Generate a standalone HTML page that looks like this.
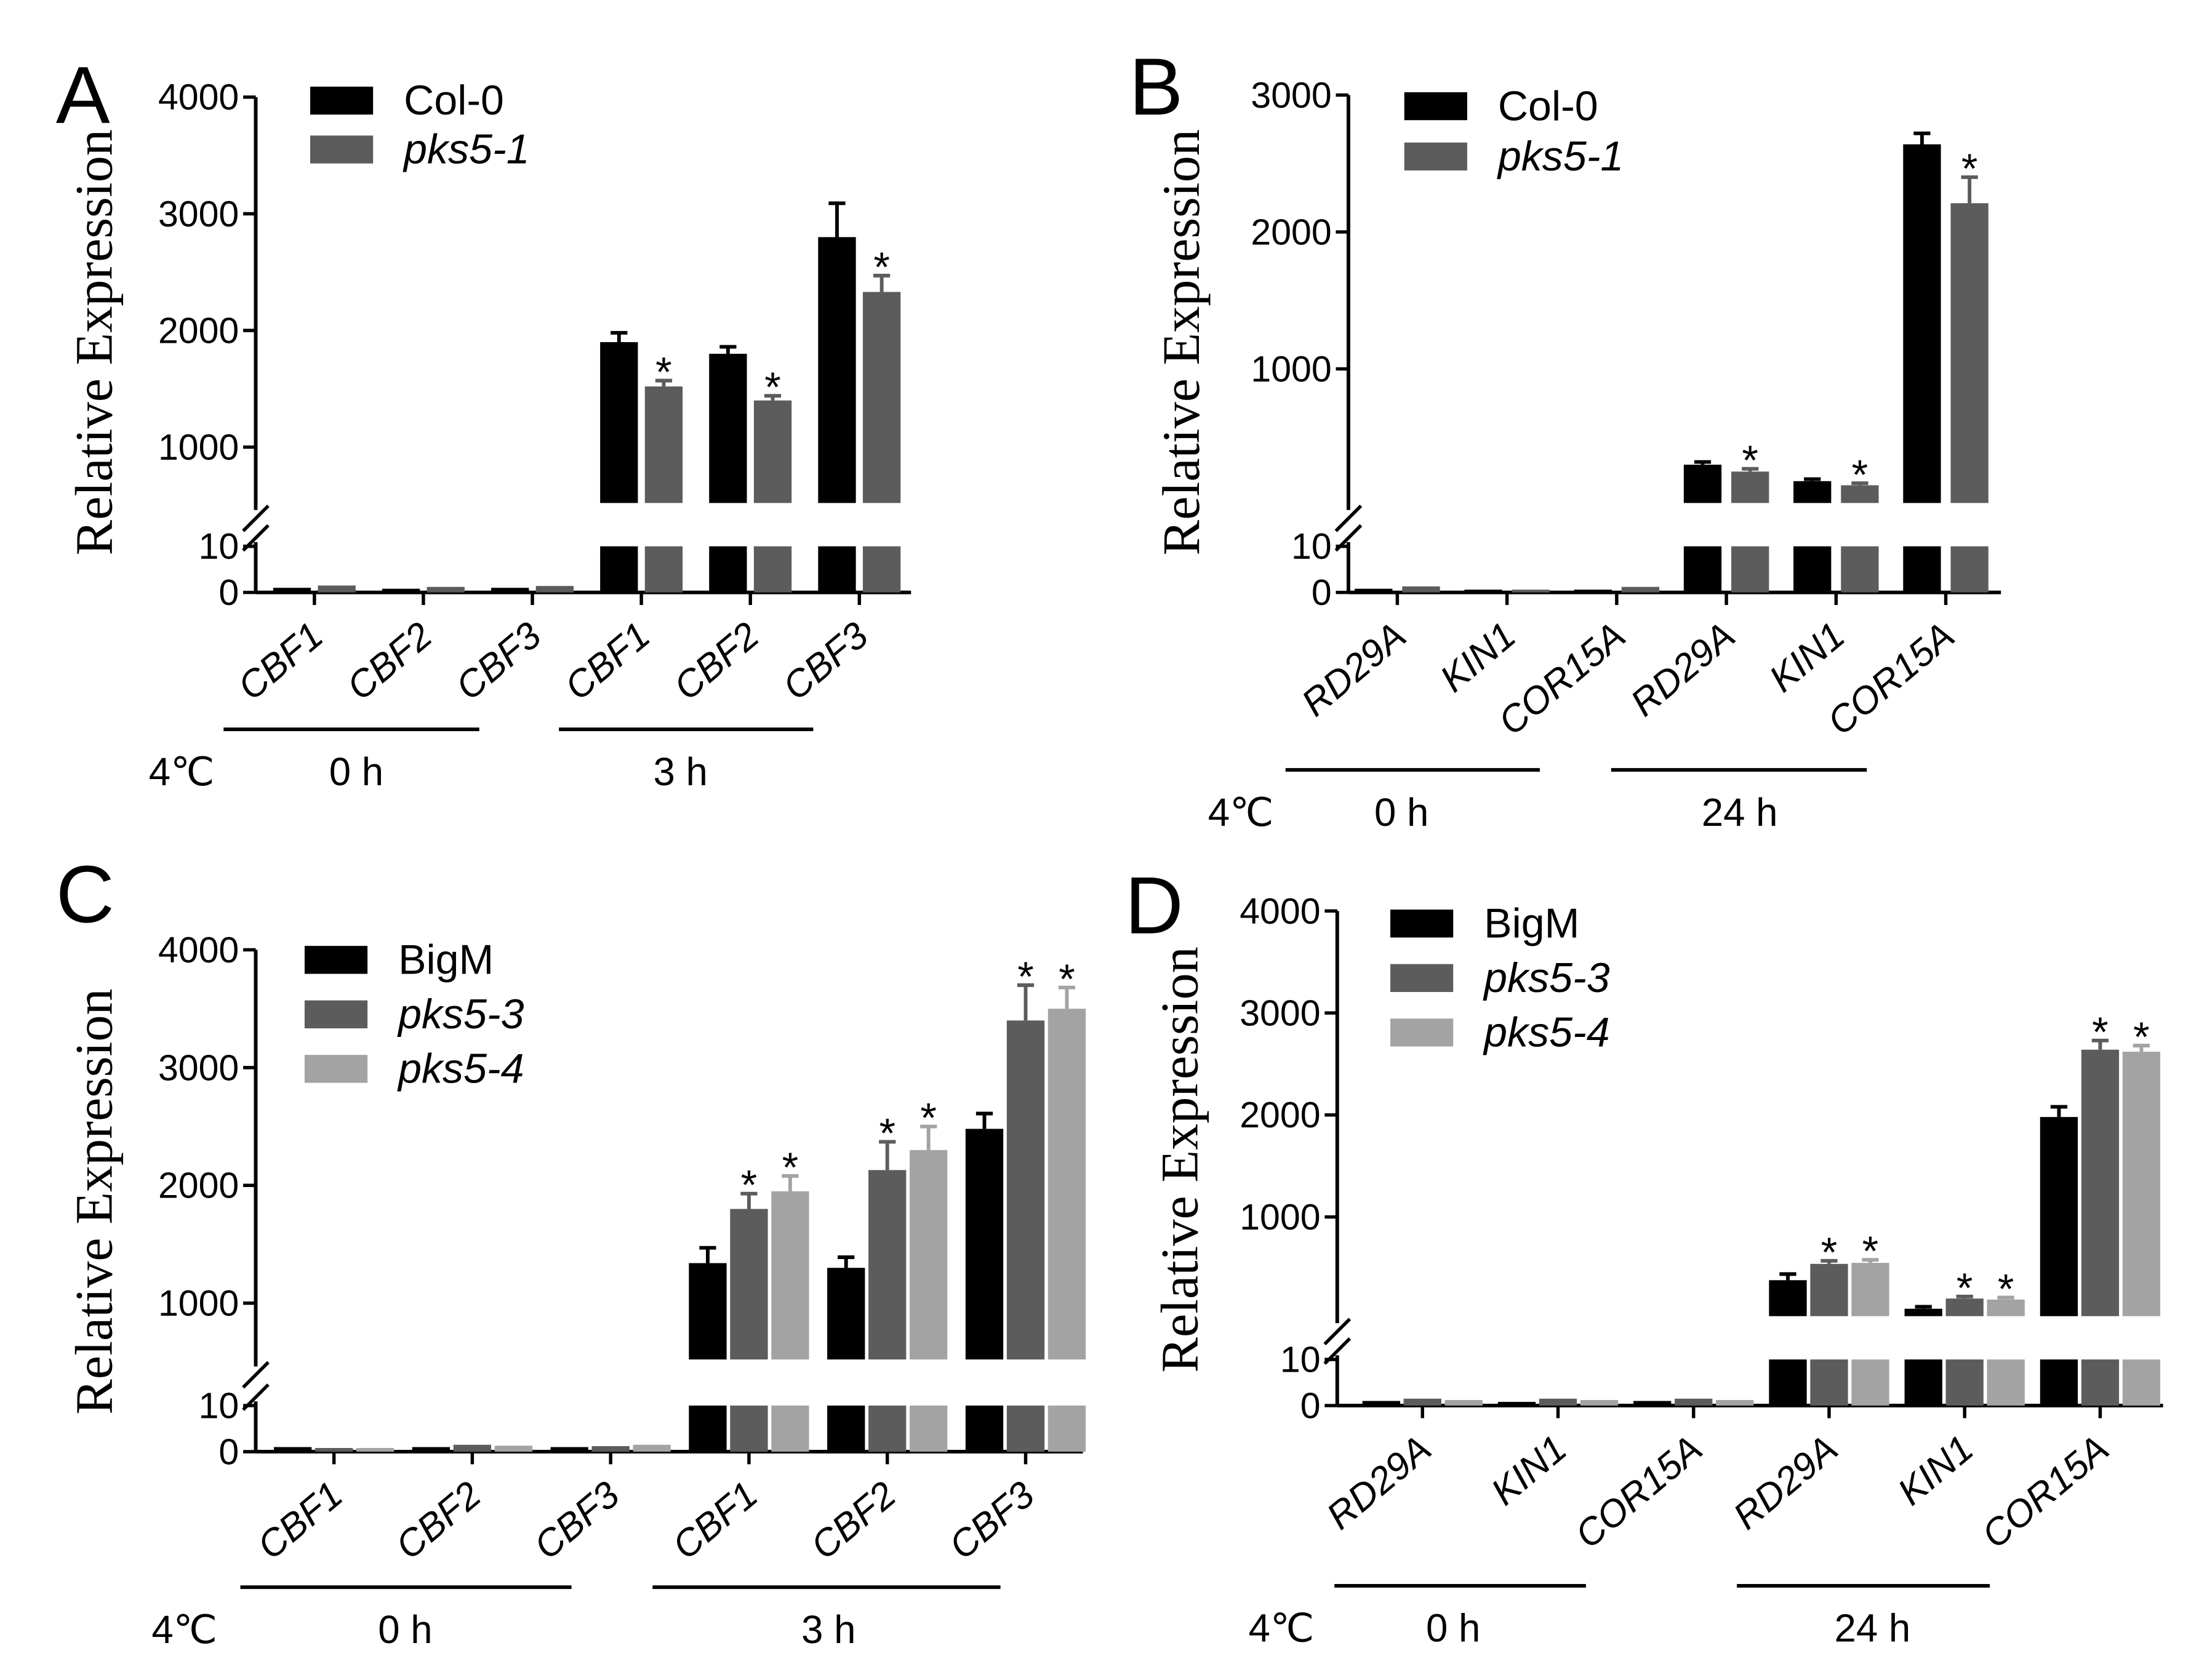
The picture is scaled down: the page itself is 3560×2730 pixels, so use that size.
<!DOCTYPE html>
<html><head><meta charset="utf-8"><style>
html,body{margin:0;padding:0;background:#fff;}
svg{display:block;}
</style></head><body>
<svg id="fig" width="3560" height="2730" viewBox="0 0 1568 1202.4" xmlns="http://www.w3.org/2000/svg" font-family="Liberation Sans, sans-serif">
</svg>
<script>
// ---- data ----
const aGenes = ["CBF1","CBF2","CBF3","CBF1","CBF2","CBF3"];
const aCol0 = [1,0.8,1,1900,1800,2800];
const aCol0Err = [0,0,0,80,60,290];
const aPks51 = [1.5,1.2,1.4,1520,1400,2330];
const aPks51Err = [0,0,0,50,40,140];
const aSig = [false,false,false,true,true,true];

const bGenes = ["RD29A","KIN1","COR15A","RD29A","KIN1","COR15A"];
const bCol0 = [0.8,0.6,0.6,300,180,2640];
const bCol0Err = [0,0,0,20,15,80];
const bPks51 = [1.3,0.6,1.2,250,150,2210];
const bPks51Err = [0,0,0,20,15,190];
const bSig = [false,false,false,true,true,true];

const cGenes = ["CBF1","CBF2","CBF3","CBF1","CBF2","CBF3"];
const cBigM = [1,1,1,1340,1300,2480];
const cBigMErr = [0,0,0,130,90,130];
const cPks53 = [0.8,1.5,1.2,1800,2130,3400];
const cPks53Err = [0,0,0,130,240,300];
const cPks54 = [0.8,1.3,1.5,1950,2300,3500];
const cPks54Err = [0,0,0,130,200,180];
const cSig = [false,false,false,true,true,true];

const dGenes = ["RD29A","KIN1","COR15A","RD29A","KIN1","COR15A"];
const dBigM = [1,0.8,1,380,100,1980];
const dBigMErr = [0,0,0,60,20,100];
const dPks53 = [1.5,1.5,1.5,540,200,2640];
const dPks53Err = [0,0,0,30,20,90];
const dPks54 = [1.2,1.2,1.2,550,190,2620];
const dPks54Err = [0,0,0,30,20,60];
const dSig = [false,false,false,true,true,true];

const upperTicksA = [1000,2000,3000,4000];
const upperTicksB = [1000,2000,3000];
const upperTicksC = [1000,2000,3000,4000];
const upperTicksD = [1000,2000,3000,4000];
const lowerTicks = [0,10];

// ---- drawing ----
const NS="http://www.w3.org/2000/svg";
const svg=document.getElementById('fig');
function el(tag,attrs,parent,txt){const e=document.createElementNS(NS,tag);for(const k in attrs)e.setAttribute(k,attrs[k]);if(txt!==undefined)e.textContent=txt;(parent||svg).appendChild(e);return e;}
const BLACK="#000",DARK="#5c5c5c",LIGHT="#a3a3a3";

function drawPanel(p){
  const g=el('g',{});
  
  
  const yU=v=>p.u0-v*p.us;
  const yL=v=>p.l0-v*(p.l0-p.l10)/10;
  const ax=p.ax;
  const ya=el('path',{d:`M${ax},${yU(p.top)}V${p.floorPx+5}M${ax},${p.l10-3}V${p.l0}`,stroke:'#000','stroke-width':2.6,fill:'none'},g);
  
  const br=el('path',{d:`M${ax-9},${p.floorPx+20}L${ax+9},${p.floorPx+2}M${ax-9},${p.l10+3}L${ax+9},${p.l10-15}`,stroke:'#000','stroke-width':2.4,fill:'none'},g);
  
  const xa=el('line',{x1:ax,x2:p.axEnd,y1:p.l0,y2:p.l0,stroke:'#000','stroke-width':2.6},g);
  
  p.uticks.forEach(t=>{
    el('line',{x1:ax-9,x2:ax,y1:yU(t),y2:yU(t),stroke:'#000','stroke-width':2.4},g);
    const tl=el('text',{x:ax-12,y:yU(t)+9,'text-anchor':'end','font-size':26},g,String(t));
    
  });
  lowerTicks.forEach(t=>{
    el('line',{x1:ax-9,x2:ax,y1:yL(t),y2:yL(t),stroke:'#000','stroke-width':2.4},g);
    const tl=el('text',{x:ax-12,y:yL(t)+9,'text-anchor':'end','font-size':26},g,String(t));
    
  });
  const n=p.series.length;
  p.genes.forEach((gn,i)=>{
    const cx=p.c0+i*p.step;
    el('line',{x1:cx,x2:cx,y1:p.l0,y2:p.l0+9,stroke:'#000','stroke-width':2.4},g);
    p.series.forEach((s,j)=>{
      const x=cx+(j-(n-1)/2)*p.off-p.bw/2;
      const v=s.vals[i];
      const lv=Math.min(v,10);
      const lb=el('rect',{x:x,y:yL(lv),width:p.bw,height:p.l0-yL(lv),fill:s.color},g);
      
      if(v>p.floorVal){
        const top=yU(v);
        const ub=el('rect',{x:x,y:top,width:p.bw,height:p.floorPx-top,fill:s.color},g);
        
        const e=s.errs[i];
        const et=yU(v+e);
        const eb=el('path',{d:`M${x+p.bw/2},${top}V${et}M${x+p.bw/2-6},${et}H${x+p.bw/2+6}`,stroke:s.color,'stroke-width':2.6,fill:'none'},g);
        
        if(s.sig&&p.sig[i]){
          const st=el('text',{x:x+p.bw/2,y:et+4,'text-anchor':'middle','font-size':30},g,'*');
          
        }
      }
    });
    const lbl=el('text',{x:0,y:0,'text-anchor':'end','font-size':27,'font-style':'italic',transform:`translate(${cx+8},${p.l0+34}) rotate(-40)`},g,gn);
    
  });
  p.groups.forEach(gr=>{
    const gl=el('line',{x1:gr.x1,x2:gr.x2,y1:p.gy,y2:p.gy,stroke:'#000','stroke-width':2.6},g);
    
    const gt=el('text',{x:gr.tx,y:p.gy+40,'text-anchor':'middle','font-size':28},g,gr.label);
    
  });
  const tc=el('text',{x:p.tempX,y:p.gy+40,'text-anchor':'middle','font-size':28},g,'4℃');
  
  const yt=el('text',{x:0,y:0,'text-anchor':'middle','font-size':38,'font-family':'Liberation Serif, serif',transform:`translate(${p.ytX},${p.ytY}) rotate(-90)`},g,'Relative Expression');
  
  const lt=el('text',{x:p.letX,y:p.letY,'font-size':58},g,p.id);
  
  p.series.forEach((s,j)=>{
    const ly=p.legY+j*p.legStep;
    const lr=el('rect',{x:p.legX,y:ly,width:45,height:20,fill:s.color},g);
    
    const ltx=el('text',{x:p.legX+67,y:ly+20,'font-size':30,'font-style':s.italic?'italic':'normal'},g,s.label);
    
  });
}

drawPanel({id:'A',ax:183,axEnd:652,top:4000,u0:403.5,us:0.0835,floorVal:520,floorPx:360,l0:424,l10:391,uticks:upperTicksA,
  genes:aGenes,c0:225,step:78,bw:27,off:32,sig:aSig,
  series:[{name:'col0',label:'Col-0',vals:aCol0,errs:aCol0Err,color:BLACK,sig:false},{name:'pks5-1',label:'pks5-1',italic:true,vals:aPks51,errs:aPks51Err,color:DARK,sig:true}],
  gy:522,groups:[{x1:160,x2:343,tx:255,label:'0 h'},{x1:400,x2:582,tx:487,label:'3 h'}],tempX:130,
  ytX:80,ytY:245,letX:40,letY:88,legX:222,legY:62,legStep:35});
drawPanel({id:'B',ax:965,axEnd:1432,top:3000,u0:362,us:0.098,floorVal:20,floorPx:360,l0:424,l10:391,uticks:upperTicksB,
  genes:bGenes,c0:1000,step:78.5,bw:27,off:34,sig:bSig,
  series:[{name:'col0',label:'Col-0',vals:bCol0,errs:bCol0Err,color:BLACK,sig:false},{name:'pks5-1',label:'pks5-1',italic:true,vals:bPks51,errs:bPks51Err,color:DARK,sig:true}],
  gy:551,groups:[{x1:920,x2:1102,tx:1003,label:'0 h'},{x1:1153,x2:1336,tx:1245,label:'24 h'}],tempX:888,
  ytX:858,ytY:245,letX:808,letY:82,legX:1005,legY:66,legStep:36});
drawPanel({id:'C',ax:183,axEnd:775,top:4000,u0:1017,us:0.0843,floorVal:520,floorPx:973,l0:1039,l10:1006,uticks:upperTicksC,
  genes:cGenes,c0:239,step:99,bw:27,off:29.5,sig:cSig,
  series:[{name:'bigm',label:'BigM',vals:cBigM,errs:cBigMErr,color:BLACK,sig:false},{name:'pks5-3',label:'pks5-3',italic:true,vals:cPks53,errs:cPks53Err,color:DARK,sig:true},{name:'pks5-4',label:'pks5-4',italic:true,vals:cPks54,errs:cPks54Err,color:LIGHT,sig:true}],
  gy:1136,groups:[{x1:172,x2:409,tx:290,label:'0 h'},{x1:467,x2:716,tx:593,label:'3 h'}],tempX:132,
  ytX:80,ytY:860,letX:40,letY:660,legX:218,legY:677,legStep:39});
drawPanel({id:'D',ax:957,axEnd:1548,top:4000,u0:944,us:0.073,floorVal:27,floorPx:942,l0:1006,l10:973,uticks:upperTicksD,
  genes:dGenes,c0:1018,step:97,bw:27,off:29.5,sig:dSig,
  series:[{name:'bigm',label:'BigM',vals:dBigM,errs:dBigMErr,color:BLACK,sig:false},{name:'pks5-3',label:'pks5-3',italic:true,vals:dPks53,errs:dPks53Err,color:DARK,sig:true},{name:'pks5-4',label:'pks5-4',italic:true,vals:dPks54,errs:dPks54Err,color:LIGHT,sig:true}],
  gy:1135,groups:[{x1:955,x2:1135,tx:1040,label:'0 h'},{x1:1243,x2:1424,tx:1340,label:'24 h'}],tempX:917,
  ytX:857,ytY:830,letX:805,letY:668,legX:995,legY:651,legStep:39});
</script>
</body></html>
